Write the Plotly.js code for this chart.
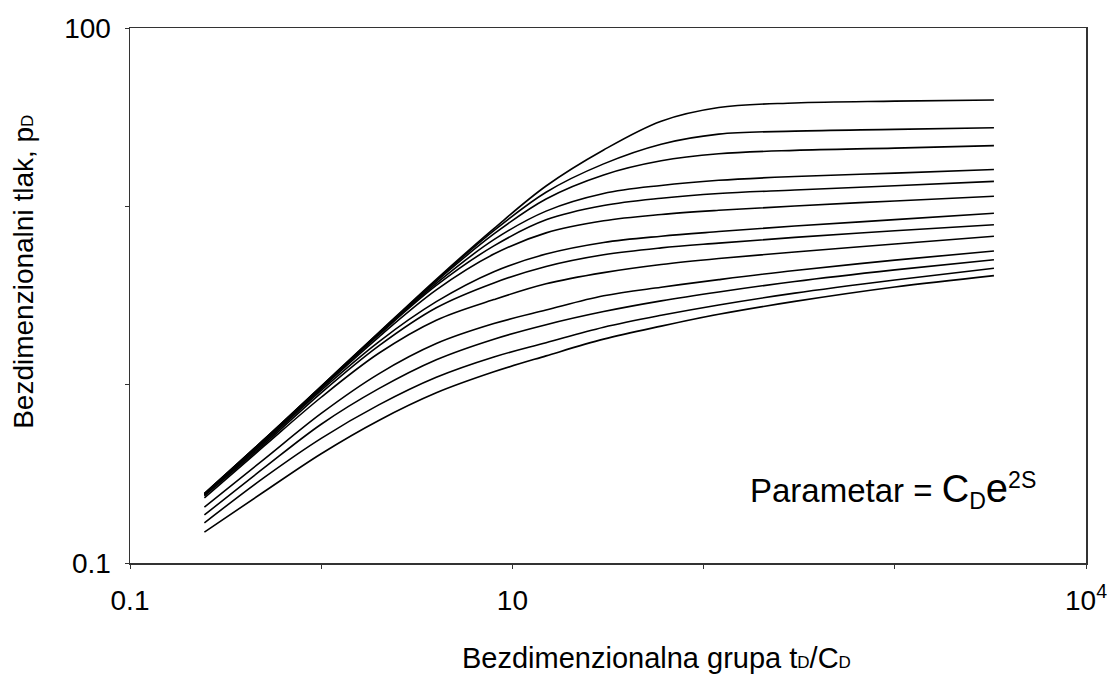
<!DOCTYPE html>
<html>
<head>
<meta charset="utf-8">
<script src="https://cdn.plot.ly/plotly-3.0.1.min.js"></script>
<style>
  html, body { margin: 0; padding: 0; background: #fff; }
  #chart { width: 1107px; height: 681px; }
</style>
</head>
<body>
<div id="chart"></div>
<script>
// Dimensionless time group tD/CD (x values where curves are read)
const tD_CD = [0.245, 0.5, 1, 2, 4, 8, 15, 30, 60, 120, 300, 1000, 3300];

// Dimensionless pressure pD for each parameter CD*e^(2S)
const p_1e30 = [0.245, 0.49, 0.98, 1.96, 3.9, 7.5, 13.0, 20.7, 30.0, 35.8, 38.0, 38.9, 39.5];
const p_1e20 = [0.245, 0.49, 0.98, 1.95, 3.85, 7.3, 12.0, 17.3, 22.3, 25.4, 26.4, 27.0, 27.6];
const p_1e15 = [0.244, 0.49, 0.97, 1.94, 3.8, 7.0, 11.0, 15.0, 18.0, 19.7, 20.6, 21.2, 21.9];
const p_1e10 = [0.243, 0.48, 0.97, 1.92, 3.7, 6.5, 9.4, 11.8, 13.1, 14.0, 14.7, 15.35, 16.1];
const p_1e8  = [0.243, 0.48, 0.96, 1.9, 3.6, 6.0, 8.4, 10.1, 11.1, 11.8, 12.35, 13.05, 13.8];
const p_1e6  = [0.242, 0.48, 0.95, 1.85, 3.4, 5.4, 7.1, 8.3, 9.0, 9.5, 10.05, 10.72, 11.4];
const p_1e4  = [0.24, 0.47, 0.93, 1.74, 2.92, 4.3, 5.4, 6.27, 6.8, 7.22, 7.76, 8.42, 9.15];
const p_1e3  = [0.238, 0.46, 0.9, 1.65, 2.7, 3.72, 4.6, 5.35, 5.85, 6.22, 6.7, 7.3, 7.89];
const p_1e2  = [0.232, 0.45, 0.85, 1.5, 2.3, 3.0, 3.68, 4.25, 4.72, 5.1, 5.55, 6.15, 6.8];
const p_10   = [0.206, 0.38, 0.69, 1.15, 1.7, 2.2, 2.62, 3.15, 3.52, 3.88, 4.37, 4.99, 5.62];
const p_3    = [0.186, 0.34, 0.6, 0.95, 1.38, 1.8, 2.17, 2.57, 2.95, 3.31, 3.79, 4.4, 5.02];
const p_1    = [0.168, 0.3, 0.5, 0.77, 1.1, 1.43, 1.72, 2.1, 2.45, 2.8, 3.26, 3.86, 4.5];
const p_05   = [0.149, 0.25, 0.41, 0.63, 0.9, 1.18, 1.45, 1.8, 2.13, 2.48, 2.93, 3.53, 4.09];

const seriesNames = ['1e30','1e20','1e15','1e10','1e8','1e6','1e4','1e3','1e2','10','3','1','0.5'];
const seriesValues = [p_1e30, p_1e20, p_1e15, p_1e10, p_1e8, p_1e6, p_1e4, p_1e3, p_1e2, p_10, p_3, p_1, p_05];

// Tick labels (labelled) and unlabelled decade ticks
const xTickVals = [0.1, 10, 10000];
const xTickText = ['0.1', '10', '10<sup>4</sup>'];
const xMinorVals = [1, 100, 1000];
const yTickVals = [0.1, 100];
const yTickText = ['0.1', '100'];
const yMinorVals = [1, 10];

const FONT = 'Liberation Sans, Arial, Helvetica, sans-serif';

const traces = seriesValues.map((vals, i) => ({
  x: tD_CD,
  y: vals,
  name: seriesNames[i],
  type: 'scatter',
  mode: 'lines',
  line: { color: '#000', width: 1.6, shape: 'spline', smoothing: 1 },
  hoverinfo: 'x+y+name'
}));

const axisCommon = {
  type: 'log',
  showgrid: false,
  zeroline: false,
  showline: true,
  linecolor: '#333',
  linewidth: 1.5,
  mirror: true,
  ticks: 'outside',
  ticklen: 4,
  tickwidth: 1,
  tickcolor: '#333',
  tickfont: { family: FONT, size: 28, color: '#000' },
  ticklabelstandoff: 8,
  ticklabeloverflow: 'allow'
};

const layout = {
  width: 1107,
  height: 681,
  margin: { l: 130, r: 21, t: 28, b: 118 },
  paper_bgcolor: '#fff',
  plot_bgcolor: '#fff',
  showlegend: false,
  xaxis: Object.assign({}, axisCommon, {
    range: [-1, 4],
    tickmode: 'array',
    tickvals: xTickVals,
    ticktext: xTickText,
    minor: { tickmode: 'array', tickvals: xMinorVals, ticks: 'outside', ticklen: 4, tickwidth: 1, tickcolor: '#333', showgrid: false }
  }),
  yaxis: Object.assign({}, axisCommon, {
    range: [-1, 2],
    tickmode: 'array',
    tickvals: yTickVals,
    ticktext: yTickText,
    minor: { tickmode: 'array', tickvals: yMinorVals, ticks: 'outside', ticklen: 4, tickwidth: 1, tickcolor: '#333', showgrid: false }
  }),
  annotations: [
    {
      xref: 'paper', yref: 'paper',
      x: 0.551, y: -0.178,
      xanchor: 'center', yanchor: 'middle',
      showarrow: false,
      text: 'Bezdimenzionalna grupa t<span style="font-size:17px">D</span>/C<span style="font-size:17px">D</span>',
      font: { family: FONT, size: 29, color: '#000' }
    },
    {
      xref: 'paper', yref: 'paper',
      x: -0.111, y: 0.544,
      xanchor: 'center', yanchor: 'middle',
      textangle: -90,
      showarrow: false,
      text: 'Bezdimenzionalni tlak, p<span style="font-size:17px">D</span>',
      font: { family: FONT, size: 28, color: '#000' }
    },
    {
      xref: 'paper', yref: 'paper',
      x: 0.6464, y: 0.136,
      xanchor: 'left', yanchor: 'middle',
      showarrow: false,
      text: 'Parametar = <span style="font-size:38px">C</span><sub>D</sub><span style="font-size:40px">e</span><sup>2S</sup>',
      font: { family: FONT, size: 33, color: '#000' }
    }
  ]
};

Plotly.newPlot('chart', traces, layout, { displayModeBar: false, staticPlot: true });
</script>
</body>
</html>
